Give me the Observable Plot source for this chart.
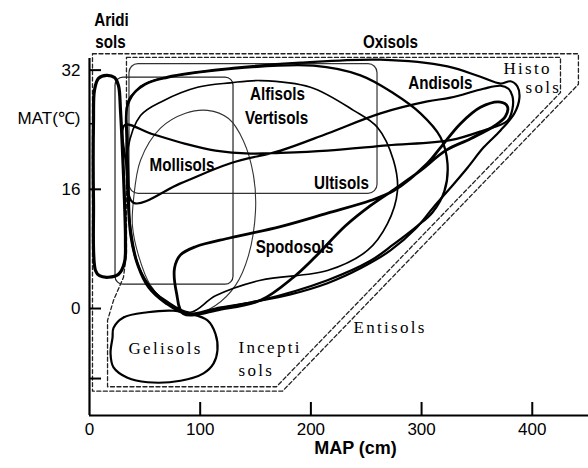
<!DOCTYPE html>
<html><head><meta charset="utf-8">
<script src="https://cdn.jsdelivr.net/npm/d3@7"></script>
<script src="https://cdn.jsdelivr.net/npm/@observablehq/plot@0.6"></script>
<style>body{margin:0;background:#fff} svg{display:block}</style>
</head><body><div id="chart"></div><script>
// ---- data (MAP cm, MAT °C) ----
const xTicks = [0, 100, 200, 300, 400];
const xTickMarks = [100, 200, 300, 400];
const yTicks = [32, 16, 0];
const yTickMarks = [32, 16, 0, -9.4];
const yMinorTick = [24.8];

const aridisols = [[5.4,5.1],[3.6,14.5],[3.6,25.2],[4.5,29.3],[8.1,30.9],[15.4,31.3],[22.6,31.0],[26.2,29.9],[28,26.6],[29.8,21.2],[31.6,14.5],[32.5,9.1],[31.6,6.2],[26.2,4.6],[17.2,4.2],[9,4.4]];
const gelisols = [[21.7,-2.6],[30.7,-1.2],[52.4,-0.5],[75.9,-0.3],[91.2,-0.7],[106.6,-1.6],[113.8,-3.4],[115.6,-5.6],[112.0,-7.4],[103.0,-8.7],[82.2,-9.7],[52.4,-9.9],[34.3,-9.3],[21.7,-7.9],[19.0,-6.0],[20.8,-3.9]];
const histosolsOuter = [[34.3,27.2],[46.1,29.8],[70.5,31.1],[130.1,32.3],[190.6,33.0],[262.9,33.4],[323.4,32.5],[353.2,31.1],[371.3,30.2],[380.3,30.5],[386.6,29.8],[388.4,28.3],[383.9,26.2],[371.3,23.9],[355.9,21.6],[341.5,18.9],[326.1,16.2],[310.8,13.6],[294.5,10.7],[271.9,7.8],[244.8,5.4],[215.0,3.4],[181.6,1.9],[145.4,0.8],[113.8,-0.1],[88.5,-0.8],[68.7,0.7],[53.3,2.8],[43.4,5.8],[37.0,9.8],[34.3,15.8],[33.4,22.5]];
const oxisols = [[35.2,27.9],[50.6,30.1],[70.5,31.0],[130.1,32.2],[202.4,32.6],[244.8,31.3],[274.6,28.9],[299.0,26.2],[317.1,23.0],[323.4,19.5],[320.7,15.8],[309.8,12.9],[296.3,11.1],[274.6,8.6],[253.8,6.4],[215.0,3.8],[154.5,1.1],[113.8,0],[88.5,-0.7],[66.8,1.1],[52.4,3.4],[42.5,6.4],[37.0,10.5],[35.2,17.2],[34.3,22.5]];
const alfisols = [[34.3,21.2],[46.1,25.9],[66.8,27.9],[97.6,29.7],[127.4,30.3],[154.5,30.6],[199.6,29.7],[238.5,26.6],[260.2,24.3],[274.6,19.9],[278.2,15.8],[269.2,11.4],[251.1,7.8],[215.0,5.1],[154.5,3.8],[113.8,1.7],[91.2,-0.5],[68.7,1.1],[53.3,3.1],[43.4,6.2],[37.0,11.1],[34.3,16.5]];
const mollisols = [[39.7,14.5],[46.1,19.9],[64.1,24.2],[86.7,26.2],[106.6,26.6],[125.6,25.5],[139.1,22.5],[148.1,17.9],[150.0,13.2],[143.6,7.1],[131.9,3.1],[113.8,0.4],[95.8,-0.7],[73.2,0.4],[55.1,3.1],[44.3,7.1],[38.8,11.1]];
const andisols = [[31.6,24.6],[55.1,23.5],[86.7,22.1],[113.8,21.2],[145.4,20.8],[172.5,20.9],[215,21.2],[269.2,21.9],[326.1,22.6],[355.9,23.9],[377.6,25.2],[382.1,26.8],[382.1,28.5],[378.5,29.5],[371.3,29.9],[355.9,29.5],[326.1,28.3],[305.3,27.8],[262.9,26.2],[215,23.5],[172.5,21.2],[127.4,19.5],[82.2,16.8],[39.7,14.2],[33.4,19.2]];
const spodosols = [[84.9,-0.7],[78.6,2.1],[76.8,5.4],[82.2,7.2],[95.8,8.3],[127.4,9.5],[172.5,11.0],[215.0,12.8],[253.8,14.5],[274.6,15.8],[305.3,19.5],[317.1,21.6],[335.1,24.8],[353.2,27.0],[371.3,27.7],[377.6,27.1],[375.8,25.8],[366.8,24.6],[344.2,22.8],[321.6,21.2],[299.0,18.5],[276.4,16.1],[253.8,13.8],[231.3,11.1],[202.4,6.7],[184.3,4.2],[154.5,1.1],[118.3,-0.1]];
const ultisolsBox = {x1: 36.1, x2: 260.2, y1: 15.4, y2: 32.8};
const mollisolsBox = {x1: 23.5, x2: 130.1, y1: 3.2, y2: 31.0};
const entisolsEnvelope = [[2.7,34.2],[441.7,34.2],[441.7,30.1],[174.3,-11.1],[2.7,-11.1]];
const inceptisolsEnvelope = [[33.4,33.7],[425.5,33.7],[425.5,29.0],[168.9,-10.5],[16.3,-10.5],[16.3,-1.6],[21.7,1.1],[30.7,4.2],[33.4,7.4]];

const boldNames = ["Aridi","sols","Oxisols","Andisols","Alfisols","Vertisols","Mollisols","Ultisols","Spodosols"];
const boldMAP   = [19.9, 19.0, 271.9, 317.0, 169.8, 169.0, 83.6, 227.6, 185.2];
const boldMAT   = [38.7, 35.8, 35.8, 30.3, 28.8, 25.6, 19.3, 16.8, 8.3];
const serifNames = ["Histo","sols","Gelisols","Incepti","sols","Entisols"];
const serifMAP   = [374.0, 393.9, 35.2, 134.6, 134.6, 238.5];
const serifMAT   = [32.2, 29.7, -5.4, -5.2, -8.3, -2.6];

const boldLabels = boldNames.map((t,i)=>({t, x: boldMAP[i], y: boldMAT[i]}));
const serifLabels = serifNames.map((t,i)=>({t, x: serifMAP[i], y: serifMAT[i]}));

const X = d=>d[0], Y = d=>d[1];
const closedLine = (pts, o) => Plot.line(pts, {x: X, y: Y, curve: "catmull-rom-closed", stroke: "#000", ...o});

const frameH = 468 - 58 - 53, frameW = 588 - 89;
const BOLD_FONT = "'Liberation Sans', Arial, sans-serif";
const SERIF_FONT = "'Liberation Serif', 'DejaVu Serif', serif";

const chart = Plot.plot({
  width: 588, height: 468,
  marginLeft: 89, marginRight: 0, marginTop: 58, marginBottom: 53,
  x: {domain: [0, 450.8]},
  y: {domain: [-14.36, 33.56]},
  style: {fontFamily: "'Liberation Sans', Arial, sans-serif", fontSize: "17px", color: "#000", background: "#fff", overflow: "visible"},
  marks: [
    Plot.line(entisolsEnvelope, {x: X, y: Y, curve: "linear-closed", stroke: "#222", strokeWidth: 1.3, strokeDasharray: "4,2.5"}),
    Plot.line(inceptisolsEnvelope, {x: X, y: Y, curve: "linear-closed", stroke: "#222", strokeWidth: 1.3, strokeDasharray: "4,2.5"}),
    Plot.rect([ultisolsBox], {x1: "x1", x2: "x2", y1: "y1", y2: "y2", rx: 9, fill: "none", stroke: "#333", strokeWidth: 1.2}),
    Plot.rect([mollisolsBox], {x1: "x1", x2: "x2", y1: "y1", y2: "y2", rx: 8, fill: "none", stroke: "#222", strokeWidth: 1.2}),
    closedLine(mollisols, {strokeWidth: 1.1, stroke: "#333"}),
    closedLine(alfisols, {strokeWidth: 1.7}),
    closedLine(oxisols, {strokeWidth: 2.3}),
    closedLine(histosolsOuter, {strokeWidth: 2.2}),
    closedLine(andisols, {strokeWidth: 2.2}),
    closedLine(spodosols, {strokeWidth: 2.8}),
    closedLine(aridisols, {strokeWidth: 3.2}),
    closedLine(gelisols, {strokeWidth: 2.2}),
    // axes
    Plot.ruleX([0], {stroke: "#000", strokeWidth: 2.2}),
    Plot.ruleY([-14.36], {stroke: "#000", strokeWidth: 2.2}),
    Plot.ruleX(xTickMarks, {stroke: "#000", strokeWidth: 2, insetTop: frameH - 13}),
    Plot.ruleY(yTickMarks, {stroke: "#000", strokeWidth: 2, insetRight: frameW - 12}),
    Plot.ruleY(yMinorTick, {stroke: "#000", strokeWidth: 1.5, insetRight: frameW - 5}),
    Plot.axisX({ticks: xTicks, tickSize: 0, tickPadding: 7, label: null, fontSize: 17}),
    Plot.axisY({ticks: yTicks, tickSize: 0, tickPadding: 9, label: null, fontSize: 17}),
    Plot.text(["MAT(℃)"], {x: -8.1, y: 25.5, text: d=>d, textAnchor: "end", fontSize: 17}),
    Plot.text(["MAP (cm)"], {x: 240.3, y: -18.8, text: d=>d, fontSize: 18, fontWeight: "bold"}),
    Plot.text(boldLabels, {x: "x", y: "y", text: "t", fontSize: 19, fontWeight: 900, fill: "#000",
      fontFamily: BOLD_FONT + ", boldlabel"}),
    Plot.text(serifLabels, {x: "x", y: "y", text: "t", textAnchor: "start", fontSize: 17, fill: "#000",
      fontFamily: SERIF_FONT})
  ]
});
document.getElementById("chart").append(chart);
// condense the heavy labels and space out the serif labels (typographic styling only)
chart.querySelectorAll('[font-family*="boldlabel"] text').forEach(t => {
  const w = t.getComputedTextLength();
  t.setAttribute("textLength", (w * 0.8).toFixed(1));
  t.setAttribute("lengthAdjust", "spacingAndGlyphs");
});
chart.querySelectorAll('[font-family*="Liberation Serif"] text').forEach(t => {
  t.setAttribute("letter-spacing", "2.3");
});
</script></body></html>
